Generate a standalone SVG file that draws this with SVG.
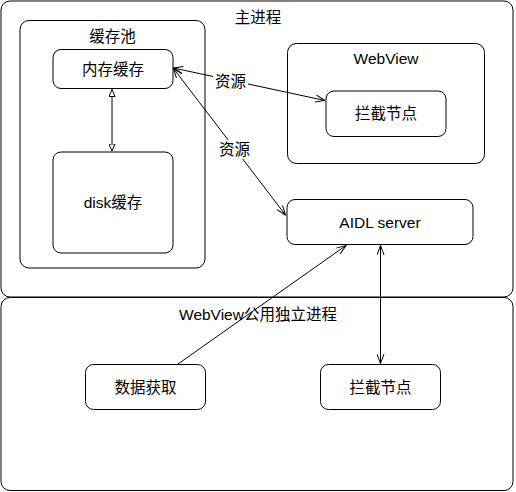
<svg xmlns="http://www.w3.org/2000/svg" width="516" height="492" viewBox="0 0 516 492">
<style>
.box{fill:#fff;stroke:#000;stroke-width:1}
.t{font-family:"Liberation Sans","Noto Sans CJK SC",sans-serif;font-size:15.5px;fill:#000;text-anchor:middle}
.c{fill:none;stroke:#000;stroke-width:1}
</style>
<defs>
<marker id="open" viewBox="0 0 10 8" refX="9.5" refY="4" markerWidth="10" markerHeight="8" markerUnits="userSpaceOnUse" orient="auto-start-reverse">
<path d="M0,0.5 L9.5,4 L0,7.5" fill="none" stroke="#000" stroke-width="1"/>
</marker>
<marker id="tri" viewBox="0 0 8 7" refX="7.5" refY="3.5" markerWidth="8" markerHeight="7" markerUnits="userSpaceOnUse" orient="auto-start-reverse">
<path d="M0.5,0.5 L7.5,3.5 L0.5,6.5 Z" fill="#fff" stroke="#000" stroke-width="1"/>
</marker>
</defs>
<g id="main-process">
<rect class="box" x="1" y="1" width="512" height="296" rx="9"/>
<text class="t" x="258" y="23">主进程</text>
</g>
<g id="webview-process">
<rect class="box" x="1" y="297.5" width="512" height="193" rx="9"/>
<text class="t" x="258" y="320">WebView公用独立进程</text>
</g>
<g id="cache-pool">
<rect class="box" x="20" y="20.5" width="185" height="247.5" rx="9"/>
<text class="t" x="112.5" y="42">缓存池</text>
</g>
<g id="memory-cache">
<rect class="box" x="53" y="49.5" width="120" height="39" rx="8"/>
<text class="t" x="113" y="74.5">内存缓存</text>
</g>
<g id="disk-cache">
<rect class="box" x="53" y="152" width="120" height="101" rx="8"/>
<text class="t" x="113" y="208">disk缓存</text>
</g>
<g id="webview">
<rect class="box" x="287.5" y="43.5" width="197" height="120" rx="9"/>
<text class="t" x="386" y="64">WebView</text>
</g>
<g id="intercept-main">
<rect class="box" x="326" y="91" width="120" height="45.5" rx="8"/>
<text class="t" x="386" y="119">拦截节点</text>
</g>
<g id="aidl-server">
<rect class="box" x="287" y="199.5" width="186" height="45" rx="8"/>
<text class="t" x="380" y="228">AIDL server</text>
</g>
<g id="data-fetch">
<rect class="box" x="85.5" y="364.5" width="120" height="45" rx="8"/>
<text class="t" x="145.5" y="392.5">数据获取</text>
</g>
<g id="intercept-sub">
<rect class="box" x="320.5" y="364.5" width="120" height="45" rx="8"/>
<text class="t" x="380.5" y="392.5">拦截节点</text>
</g>
<g id="connectors">
<line class="c" x1="112" y1="89.5" x2="112" y2="151" marker-start="url(#tri)" marker-end="url(#tri)"/>
<line class="c" x1="173.5" y1="68" x2="325" y2="100.5" marker-start="url(#open)" marker-end="url(#open)"/>
<line class="c" x1="173.5" y1="68.5" x2="285.5" y2="215" marker-start="url(#open)" marker-end="url(#open)"/>
<line class="c" x1="178" y1="364" x2="346" y2="245.5" marker-end="url(#open)"/>
<line class="c" x1="380.5" y1="245.5" x2="380.5" y2="363.5" marker-start="url(#open)" marker-end="url(#open)"/>
<rect x="213" y="72" width="35" height="19" fill="#fff"/>
<text class="t" x="230.5" y="87">资源</text>
<rect x="217" y="140" width="35" height="19" fill="#fff"/>
<text class="t" x="234.5" y="155">资源</text>
</g>
</svg>
